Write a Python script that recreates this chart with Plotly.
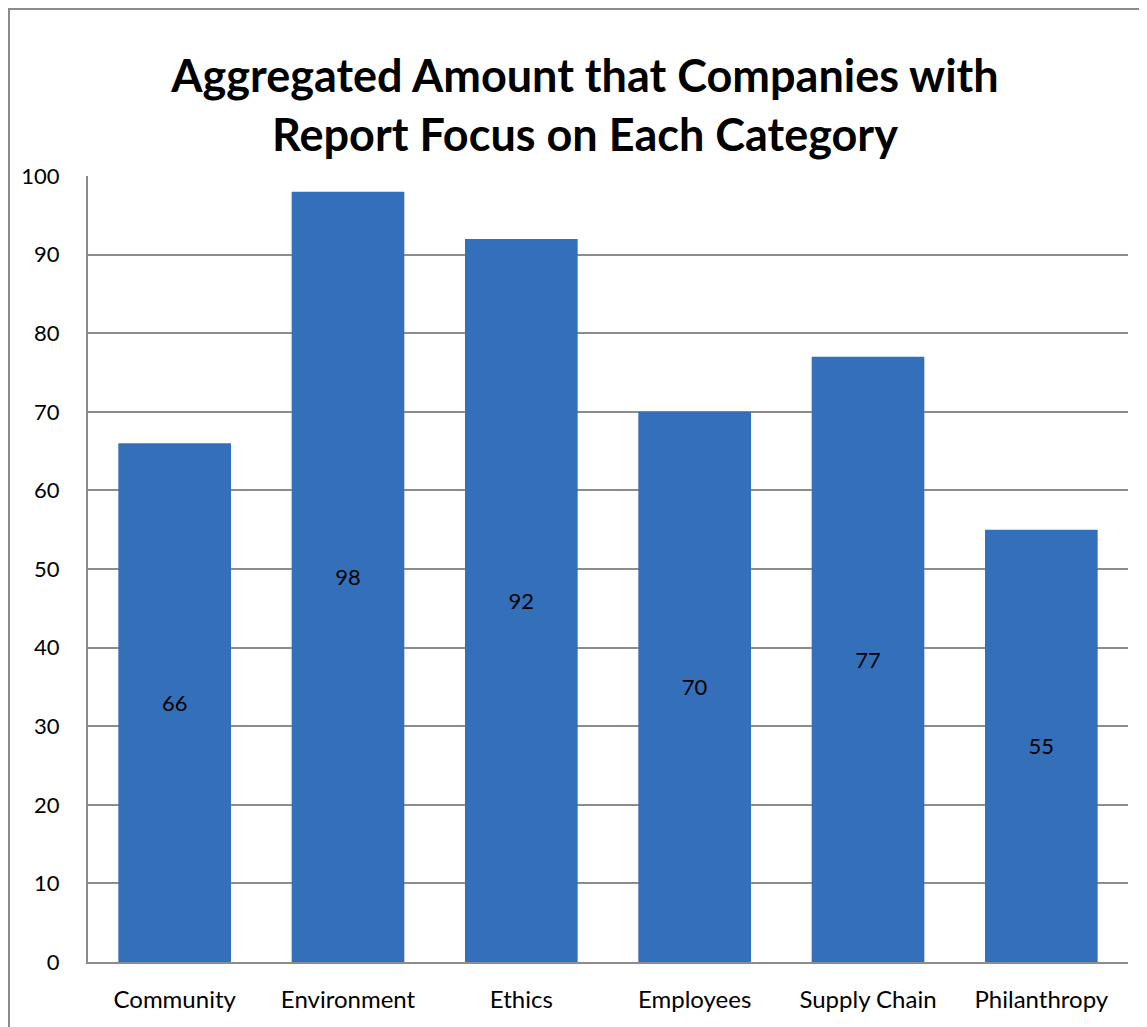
import plotly.graph_objects as go

categories = ["Community", "Environment", "Ethics", "Employees", "Supply Chain", "Philanthropy"]
values = [66, 98, 92, 70, 77, 55]
tick_vals = [0, 10, 20, 30, 40, 50, 60, 70, 80, 90, 100]

OFF = 8  # default page body margin
W, H = 1147 - OFF, 1027 - OFF
L, R, T, B = 88 - OFF, 19, 176 - OFF, 65
pw, ph = W - L - R, H - T - B

FONT = "Lato, Open Sans, sans-serif"

fig = go.Figure()
fig.add_trace(go.Bar(
    x=categories, y=values,
    text=[str(v) for v in values],
    textposition="inside", insidetextanchor="middle",
    textfont=dict(family=FONT, size=22, color="black"),
    marker=dict(color="#3470BA", line=dict(width=0)),
    width=0.65,
    cliponaxis=False,
))

def px(x):
    return (x - OFF - L) / pw

def py(y):
    return (H + OFF - B - y) / ph

fig.update_layout(
    width=W, height=H,
    margin=dict(l=L, r=R, t=T, b=B),
    paper_bgcolor="white", plot_bgcolor="white",
    showlegend=False,
    title=dict(
        text="<b>Aggregated Amount that Companies with<br>Report Focus on Each Category</b>",
        x=px(585), xref="paper", xanchor="center",
        y=1 - 84 / H, yref="container", yanchor="middle",
        font=dict(family=FONT, size=45, color="black"),
    ),
    xaxis=dict(
        showgrid=False, showline=True, linecolor="#8c8c8c", linewidth=2,
        ticks="", tickfont=dict(family=FONT, size=24, color="black"),
        ticklabelstandoff=15,
    ),
    yaxis=dict(
        range=[0, 100], tickvals=tick_vals,
        showgrid=True, gridcolor="#8c8c8c", gridwidth=1.5,
        showline=True, linecolor="#8c8c8c", linewidth=2,
        ticks="", tickfont=dict(family=FONT, size=22, color="black"),
        ticklabelstandoff=22, zeroline=False,
    ),
    shapes=[dict(
        type="rect", xref="paper", yref="paper",
        x0=px(9), x1=px(1180), y0=py(1050), y1=py(9),
        line=dict(color="#8c8c8c", width=2), fillcolor="rgba(0,0,0,0)",
        layer="below",
    )],
)

fig.write_html("out.html")
